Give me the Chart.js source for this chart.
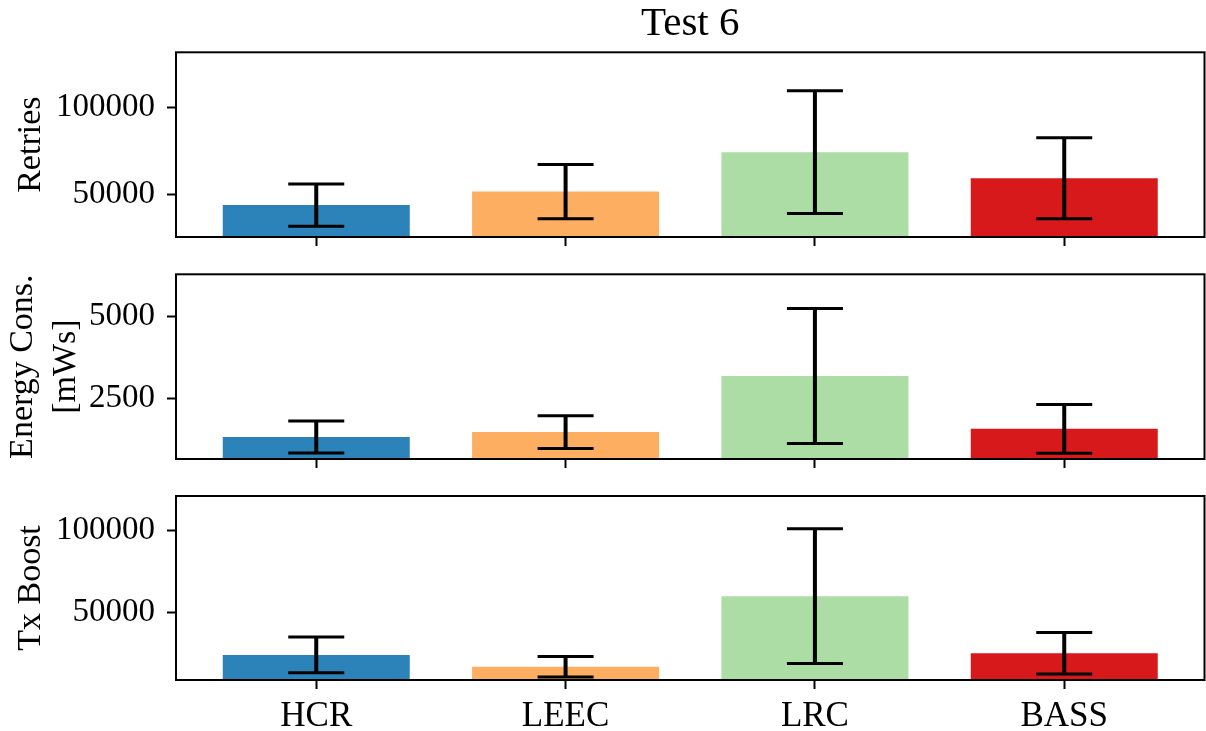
<!DOCTYPE html>
<html>
<head>
<meta charset="utf-8">
<script src="https://cdn.jsdelivr.net/npm/chart.js@4.4.0/dist/chart.umd.min.js"></script>
<style>
  body { margin: 0; background: #fff; }
  #wrap { position: relative; width: 1206px; height: 731px; }
  .panel { position: absolute; left: 0; width: 1206px; }
</style>
</head>
<body>
<div id="wrap">
  <div class="panel" style="top:0;height:250px"><canvas id="c1"></canvas></div>
  <div class="panel" style="top:250px;height:222px"><canvas id="c2"></canvas></div>
  <div class="panel" style="top:472px;height:259px"><canvas id="c3"></canvas></div>
</div>
<script>
// data
const categories = ['HCR', 'LEEC', 'LRC', 'BASS'];
const barColors = ['#2b83ba', '#fdae61', '#abdda4', '#d7191c'];

const retries = [43900, 51700, 74400, 59400];
const retriesErr = [12200, 15600, 35400, 23300];
const energy = [1345, 1490, 3185, 1590];
const energyErr = [483, 493, 2040, 736];
const txBoost = [24500, 17300, 60000, 25500];
const txBoostErr = [10800, 6200, 40700, 12600];

const retriesTicks = [50000, 100000];
const energyTicks = [2500, 5000];
const txBoostTicks = [50000, 100000];

Chart.defaults.font.family = "'Liberation Serif', 'Times New Roman', serif";
Chart.defaults.font.size = 33;
Chart.defaults.color = '#000';

// error bars drawn from the dataset's errors through the scales
const errorBars = {
  id: 'errorBars',
  afterDatasetsDraw(chart) {
    const ctx = chart.ctx;
    const xs = chart.scales.x, ys = chart.scales.y;
    const ds = chart.data.datasets[0];
    ctx.save();
    ctx.strokeStyle = '#000';
    ds.data.forEach((p, i) => {
      const x = xs.getPixelForValue(p.x);
      const hi = ys.getPixelForValue(p.y + ds.errors[i]);
      const lo = ys.getPixelForValue(p.y - ds.errors[i]);
      ctx.lineWidth = 4;
      ctx.beginPath();
      ctx.moveTo(x, hi);
      ctx.lineTo(x, lo);
      ctx.stroke();
      ctx.lineWidth = 3;
      ctx.beginPath();
      ctx.moveTo(x - 28, hi); ctx.lineTo(x + 28, hi);
      ctx.moveTo(x - 28, lo); ctx.lineTo(x + 28, lo);
      ctx.stroke();
    });
    ctx.restore();
  }
};

// box around the plot area (all four spines)
const frame = {
  id: 'frame',
  afterDraw(chart) {
    const {left, top, right, bottom} = chart.chartArea;
    const ctx = chart.ctx;
    ctx.save();
    ctx.strokeStyle = '#000';
    ctx.lineWidth = 2;
    ctx.strokeRect(left, top, right - left, bottom - top);
    ctx.restore();
  }
};

function makePanel(id, values, errs, yTicks, yMin, yMax, yTitle, titlePad, opts) {
  const tickGrid = {
    display: true, drawOnChartArea: false, drawTicks: true, offset: false,
    tickLength: 9, tickWidth: 2, tickColor: '#000'
  };
  return new Chart(document.getElementById(id), {
    type: 'bar',
    data: {
      datasets: [{
        data: values.map((v, i) => ({x: i, y: v})),
        errors: errs,
        backgroundColor: barColors,
        borderWidth: 0,
        barPercentage: 0.75,
        categoryPercentage: 1
      }]
    },
    options: {
      responsive: true,
      maintainAspectRatio: false,
      animation: false,
      events: [],
      layout: { padding: { left: 0, right: 1.5, top: opts.padTop, bottom: 0 } },
      plugins: {
        legend: { display: false },
        tooltip: { enabled: false },
        title: opts.title ? {
          display: true, text: opts.title, fullSize: false,
          font: { size: 41, weight: 'normal', lineHeight: 1.2 },
          padding: { top: 0, bottom: 3.1 }
        } : { display: false }
      },
      scales: {
        x: {
          type: 'linear',
          offset: false,
          min: -0.5625, max: 3.5625,
          grid: tickGrid,
          border: { display: false },
          afterBuildTicks: (s) => { s.ticks = categories.map((c, i) => ({value: i})); },
          afterFit: (s) => { s.height = opts.xHeight; s.paddingLeft = 0; s.paddingRight = 0; },
          ticks: {
            display: opts.showLabels,
            font: { size: 35 },
            padding: 7,
            maxRotation: 0,
            autoSkip: false,
            callback: (v) => categories[v] ?? ''
          }
        },
        y: {
          min: yMin, max: yMax,
          grid: tickGrid,
          border: { display: false },
          afterBuildTicks: (s) => { s.ticks = yTicks.map(v => ({value: v})); },
          afterFit: (s) => { s.width = 176; s.paddingTop = 0; s.paddingBottom = 0; },
          ticks: { padding: 12, callback: (v) => String(v) },
          title: {
            display: true, text: yTitle,
            font: { size: 34, lineHeight: 1.27 },
            padding: { top: titlePad, bottom: 0 }
          }
        }
      }
    },
    plugins: [errorBars, frame]
  });
}

makePanel('c1', retries, retriesErr, retriesTicks, 25520, 131990, 'Retries', 9.5,
  { title: 'Test 6', padTop: 0, xHeight: 13, showLabels: false });
makePanel('c2', energy, energyErr, energyTicks, 677, 6261, ['Energy Cons.', '[mWs]'], 1.5,
  { padTop: 24.3, xHeight: 13, showLabels: false });
makePanel('c3', txBoost, txBoostErr, txBoostTicks, 9310, 120560, 'Tx Boost', 9.5,
  { padTop: 24, xHeight: 51, showLabels: true });
</script>
</body>
</html>
